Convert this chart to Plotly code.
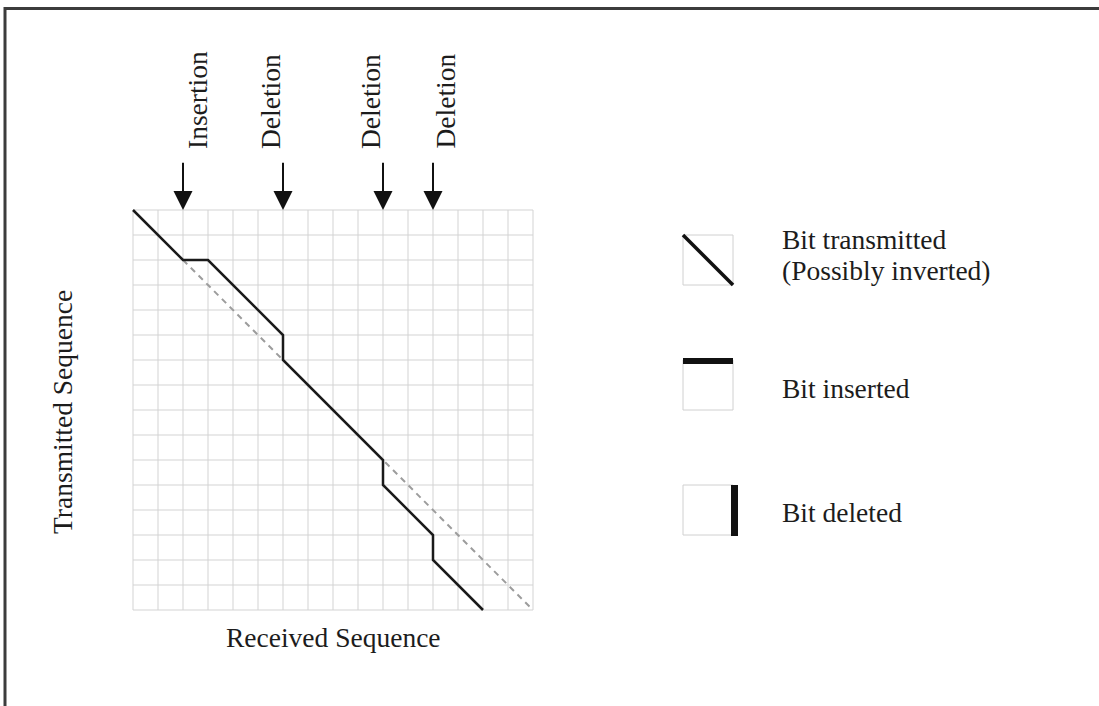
import plotly.graph_objects as go

# ---------------- data ----------------
n_cells = 16
# traced alignment path (received index, transmitted index)
path_received = [0, 2, 3, 6, 6, 10, 10, 12, 12, 14]
path_transmitted = [0, 2, 2, 5, 6, 10, 11, 13, 14, 16]
# dashed reference diagonal (continuation without the insertion)
ref_received = [2, 16]
ref_transmitted = [2, 16]
# events marked by arrows at the top
event_cols = [2, 6, 10, 12]
event_labels = ["Insertion", "Deletion", "Deletion", "Deletion"]
# legend
legend_labels = [["Bit transmitted", "(Possibly inverted)"], ["Bit inserted"], ["Bit deleted"]]
x_title = "Received Sequence"
y_title = "Transmitted Sequence"

# ---------------- layout constants ----------------
W, H = 1099, 706
CELL = 25.0
X0PX, Y0PX = 133, 210
FONT = "Liberation Serif, Times New Roman, serif"
TXT = "#1c1c1c"
FS = 27.5

fig = go.Figure()

# grid
gx, gy = [], []
for i in range(n_cells + 1):
    gx += [i, i, None]
    gy += [0, n_cells, None]
    gx += [0, n_cells, None]
    gy += [i, i, None]
fig.add_trace(go.Scatter(x=gx, y=gy, mode="lines",
                         line=dict(color="#d3d3d3", width=1), hoverinfo="skip"))

# dashed reference
fig.add_trace(go.Scatter(x=ref_received, y=ref_transmitted, mode="lines",
                         line=dict(color="#9c9c9c", width=2, dash="6px,5px"), hoverinfo="skip"))

# path
fig.add_trace(go.Scatter(x=path_received, y=path_transmitted, mode="lines",
                         line=dict(color="#1a1a1a", width=2.5), hoverinfo="skip"))

# arrows + labels
label_dx = [0.56, -0.5, -0.5, 0.48]
for c, lab, dx in zip(event_cols, event_labels, label_dx):
    fig.add_annotation(x=c, y=0, ax=c, ay=-1.95, xref="x", yref="y", axref="x", ayref="y",
                       showarrow=True, arrowhead=2, arrowsize=1.9, arrowwidth=2,
                       arrowcolor="#111111", text="")
    fig.add_annotation(x=c + dx, y=-2.36, xref="x", yref="y", text=lab, textangle=-90,
                       showarrow=False, xanchor="center", yanchor="bottom",
                       font=dict(family=FONT, size=FS, color=TXT))

# legend boxes
legend_rows = [1, 6, 11]
for r in legend_rows:
    fig.add_shape(type="rect", x0=22, x1=24, y0=r, y1=r + 2, xref="x", yref="y",
                  line=dict(color="#d0d0d0", width=1))
fig.add_shape(type="line", x0=22, y0=1, x1=24, y1=3, xref="x", yref="y",
              line=dict(color="#111111", width=3.5))
fig.add_shape(type="line", x0=22, y0=6.04, x1=24, y1=6.04, xref="x", yref="y",
              line=dict(color="#111111", width=6))
fig.add_shape(type="line", x0=24.06, y0=11, x1=24.06, y1=13.04, xref="x", yref="y",
              line=dict(color="#111111", width=7))

legend_y = [[1.18, 2.42], [7.12], [12.08]]
for lines, ys in zip(legend_labels, legend_y):
    for t, yy in zip(lines, ys):
        fig.add_annotation(x=25.88, y=yy, xref="x", yref="y", text=t, showarrow=False,
                           xanchor="left", yanchor="middle",
                           font=dict(family=FONT, size=FS, color=TXT))

# axis titles
fig.add_annotation(x=n_cells / 2, y=17.08, xref="x", yref="y", text=x_title, showarrow=False,
                   xanchor="center", yanchor="middle", font=dict(family=FONT, size=FS, color=TXT))
fig.add_annotation(x=-2.84, y=8.08, xref="x", yref="y", text=y_title, showarrow=False,
                   textangle=-90, xanchor="center", yanchor="middle",
                   font=dict(family=FONT, size=FS, color=TXT))

# outer frame
fig.add_shape(type="rect", xref="paper", yref="paper",
              x0=5 / W, x1=1.05, y0=-0.05, y1=1 - 8.5 / H,
              line=dict(color="#3c3c3c", width=3))

fig.update_xaxes(range=[-X0PX / CELL, (W - X0PX) / CELL], visible=False, domain=[0, 1])
fig.update_yaxes(range=[(H - Y0PX) / CELL, -Y0PX / CELL], visible=False, domain=[0, 1])
fig.update_layout(width=W, height=H, margin=dict(l=0, r=0, t=0, b=0),
                  paper_bgcolor="white", plot_bgcolor="white", showlegend=False,
                  hovermode=False)

fig.write_html("out.html", config={"displayModeBar": False},
               post_script="document.body.style.margin='0';document.body.style.overflow='hidden';")
